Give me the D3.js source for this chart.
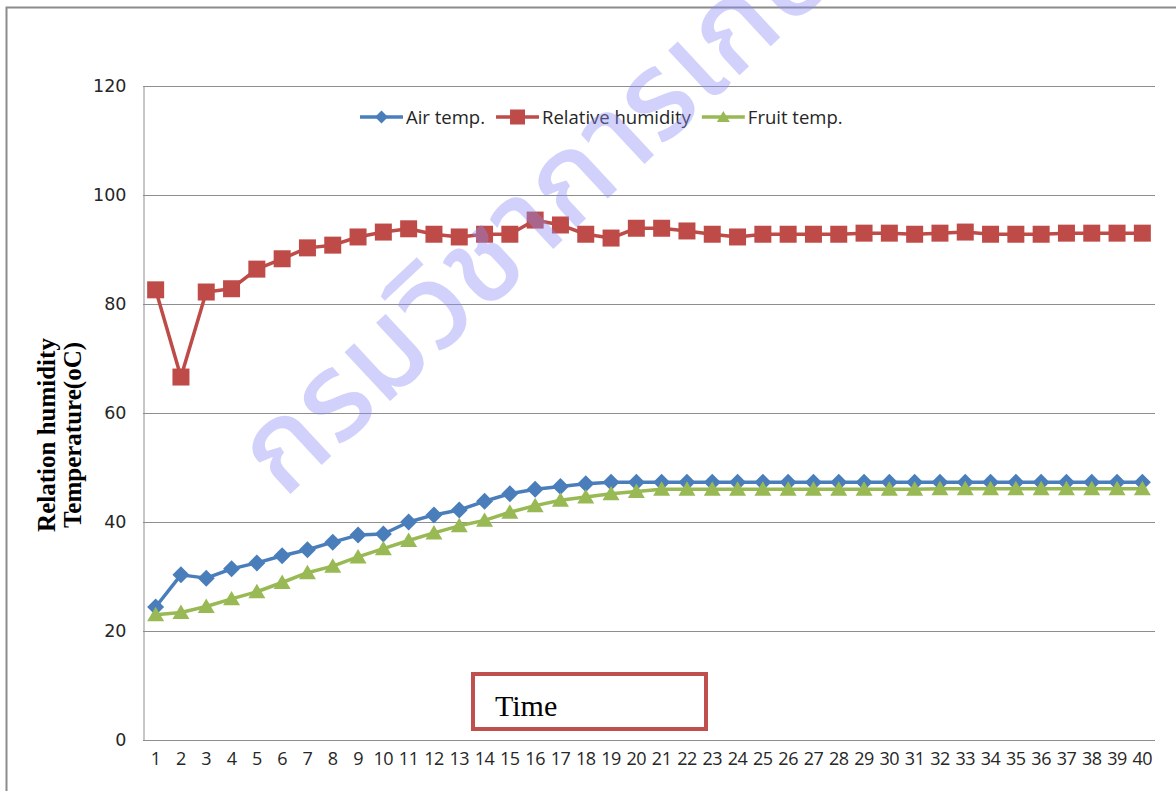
<!DOCTYPE html>
<html>
<head>
<meta charset="utf-8">
<script src="https://cdn.jsdelivr.net/npm/d3@7/dist/d3.min.js"></script>
<style>
  html, body { margin: 0; padding: 0; background: #ffffff; }
  svg { display: block; }
</style>
</head>
<body>
<svg id="chart" width="1176" height="791"></svg>
<script>
// Sampling points 1..40
const categories = d3.range(1, 41);

// Series values
const airTemp = [
  24.4, 30.3, 29.7, 31.4, 32.5, 33.8, 34.9, 36.3, 37.6, 37.8,
  40.0, 41.3, 42.2, 43.8, 45.2, 46.0, 46.5, 47.0, 47.3, 47.3,
  47.3, 47.3, 47.3, 47.3, 47.3, 47.3, 47.3, 47.3, 47.3, 47.3,
  47.3, 47.3, 47.3, 47.3, 47.3, 47.3, 47.3, 47.3, 47.3, 47.3
];
const relHumidity = [
  82.6, 66.6, 82.2, 82.8, 86.4, 88.3, 90.3, 90.8, 92.3, 93.2,
  93.8, 92.8, 92.3, 92.8, 92.8, 95.4, 94.5, 92.8, 92.1, 93.9,
  93.9, 93.4, 92.8, 92.3, 92.8, 92.8, 92.8, 92.8, 93.0, 93.0,
  92.8, 93.0, 93.2, 92.8, 92.8, 92.8, 93.0, 93.0, 93.0, 93.0
];
const fruitTemp = [
  23.0, 23.4, 24.5, 25.9, 27.2, 28.9, 30.7, 31.9, 33.6, 35.1,
  36.6, 38.0, 39.3, 40.3, 41.8, 43.0, 44.0, 44.6, 45.2, 45.6,
  46.0, 46.0, 46.0, 46.0, 46.0, 46.0, 46.0, 46.0, 46.0, 46.0,
  46.0, 46.1, 46.1, 46.1, 46.1, 46.1, 46.1, 46.1, 46.1, 46.1
];

const yTicks = [0, 20, 40, 60, 80, 100, 120];
const seriesNames = ["Air temp.", "Relative humidity", "Fruit temp."];
const yTitleLines = ["Relation humidity", "Temperature(oC)"];
const xTitle = "Time";
const watermark = "กรมวิชาการเกษตร";

const series = [
  { name: seriesNames[0], values: airTemp, color: "#4a7ebb", marker: "diamond" },
  { name: seriesNames[1], values: relHumidity, color: "#be4b48", marker: "square" },
  { name: seriesNames[2], values: fruitTemp, color: "#98b954", marker: "triangle" }
];

const svg = d3.select("#chart");
const W = 1176, H = 791;
const plot = { left: 143, right: 1155, top: 86, bottom: 740 };

// Chart frame
svg.append("rect")
  .attr("x", 6.5).attr("y", 7.5)
  .attr("width", W + 20).attr("height", H + 20)
  .attr("fill", "#ffffff")
  .attr("stroke", "#8c8c8c").attr("stroke-width", 2);

const x = d3.scaleBand().domain(categories).range([plot.left, plot.right]);
const y = d3.scaleLinear().domain([0, 120]).range([plot.bottom, plot.top]);
const cx = d => x(d) + x.bandwidth() / 2;

// Horizontal gridlines
svg.append("g")
  .selectAll("line")
  .data(yTicks.filter(t => t > 0))
  .join("line")
  .attr("x1", plot.left).attr("x2", plot.right)
  .attr("y1", d => Math.round(y(d)) + 0.5).attr("y2", d => Math.round(y(d)) + 0.5)
  .attr("stroke", "#8e8e8e").attr("stroke-width", 1);

// Y axis
const yAxis = svg.append("g")
  .attr("transform", `translate(${plot.left + 0.5},0)`)
  .call(d3.axisLeft(y).tickValues(yTicks).tickSize(0).tickPadding(17).tickFormat(d3.format("d")));
yAxis.select(".domain").attr("stroke", "#8e8e8e");
yAxis.selectAll("text")
  .attr("font-family", "'DejaVu Sans', sans-serif")
  .attr("font-size", 17.5)
  .attr("fill", "#262626");

// X axis
const xAxis = svg.append("g")
  .attr("transform", `translate(0,${plot.bottom + 0.5})`)
  .call(d3.axisBottom(x).tickSize(0).tickPadding(12));
xAxis.select(".domain").attr("stroke", "#8e8e8e").attr("d", `M${plot.left},0H${plot.right}`);
xAxis.selectAll("text")
  .attr("font-family", "'Open Sans', sans-serif")
  .attr("font-size", 18)
  .attr("letter-spacing", -0.5)
  .attr("fill", "#262626");

// Y axis title
const yt = svg.append("text")
  .attr("transform", `translate(55,435) rotate(-90)`)
  .attr("text-anchor", "middle")
  .attr("font-family", "'Liberation Serif', 'Times New Roman', serif")
  .attr("font-weight", "bold")
  .attr("font-size", 25)
  .attr("fill", "#000");
yTitleLines.forEach((t, i) => {
  yt.append("tspan").attr("x", 0).attr("dy", i === 0 ? 0 : 26).text(t);
});

// Marker shapes
function markerPath(kind, size) {
  const s = size / 2;
  if (kind === "diamond") return `M0,${-s}L${s},0L0,${s}L${-s},0Z`;
  if (kind === "square") return `M${-s},${-s}H${s}V${s}H${-s}Z`;
  const h = size * 0.85;
  return `M0,${-h * 0.55}L${s},${h * 0.45}L${-s},${h * 0.45}Z`;
}
const markerSize = { diamond: 17, square: 17, triangle: 17 };

const line = d3.line().x((d, i) => cx(categories[i])).y(d => y(d));

const seriesG = svg.append("g");
series.forEach(s => {
  const g = seriesG.append("g");
  g.append("path")
    .attr("d", line(s.values))
    .attr("fill", "none")
    .attr("stroke", s.color)
    .attr("stroke-width", 3.5)
    .attr("stroke-linejoin", "round");
  g.selectAll("path.m")
    .data(s.values)
    .join("path")
    .attr("class", "m")
    .attr("transform", (d, i) => `translate(${cx(categories[i])},${y(d)})`)
    .attr("d", markerPath(s.marker, markerSize[s.marker]))
    .attr("fill", s.color);
});

// Legend
const legend = svg.append("g").attr("transform", "translate(360,117)");
let lx = 0;
series.forEach(s => {
  const item = legend.append("g").attr("transform", `translate(${lx},0)`);
  item.append("line").attr("x1", 0).attr("x2", 43).attr("y1", 0).attr("y2", 0)
    .attr("stroke", s.color).attr("stroke-width", 3.5);
  item.append("path")
    .attr("transform", "translate(21.5,0)")
    .attr("d", markerPath(s.marker, s.marker === "square" ? 15 : 13))
    .attr("fill", s.color);
  const t = item.append("text")
    .attr("x", 46).attr("y", 6.5)
    .attr("font-family", "'Open Sans', sans-serif")
    .attr("font-size", 18.5)
    .attr("fill", "#262626")
    .text(s.name);
  lx += 46 + t.node().getComputedTextLength() + 11;
});

// Time label box
svg.append("rect")
  .attr("x", 473).attr("y", 674).attr("width", 233).attr("height", 55)
  .attr("fill", "#ffffff").attr("stroke", "#c0504d").attr("stroke-width", 4);
svg.append("text")
  .attr("x", 495).attr("y", 716)
  .attr("font-family", "'Liberation Serif', 'Times New Roman', serif")
  .attr("font-size", 30)
  .attr("fill", "#000")
  .text(xTitle);

// Watermark
svg.append("text")
  .attr("transform", "translate(284,500) rotate(-43)")
  .attr("font-family", "'Noto Sans Thai', 'Loma', 'Garuda', 'Tlwg Typo', 'Noto Sans', sans-serif")
  .attr("font-weight", 500)
  .attr("font-size", 122)
  .attr("fill", "#8c8cf5")
  .attr("fill-opacity", 0.4)
  .text(watermark);
</script>
</body>
</html>
